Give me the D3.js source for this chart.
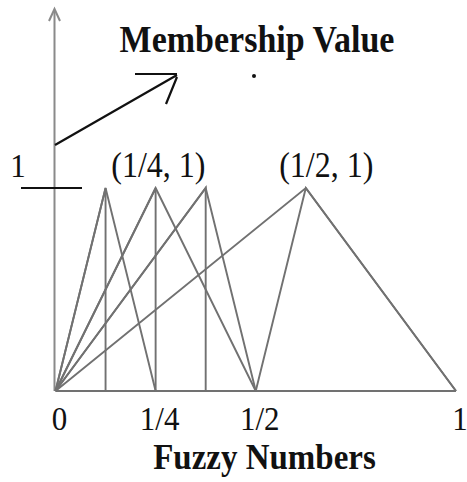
<!DOCTYPE html>
<html>
<head>
<meta charset="utf-8">
<script src="https://cdn.jsdelivr.net/npm/d3@7"></script>
<style>
  html, body { margin: 0; padding: 0; background: #fff; }
  svg { display: block; }
  text { font-family: "Liberation Serif", "Times New Roman", serif; fill: #111; }
</style>
</head>
<body>
<svg id="chart" width="467" height="482"></svg>
<script>
// Triangular fuzzy numbers: [left, peak, right] on the unit interval
const triangles = [
  [0, 1/8, 1/8],
  [0, 1/8, 1/4],
  [0, 1/4, 1/4],
  [0, 1/4, 1/2],
  [0, 3/8, 3/8],
  [0, 3/8, 1/2],
  [0, 5/8, 1],
  [1/2, 5/8, 1]
];
// Tick positions and labels along the fuzzy-number axis
const tickValues = [0, 1/4, 1/2, 1];
const tickLabels = ["0", "1/4", "1/2", "1"];
// Peak annotations: text and the x position (in axis units) they sit at
const peakLabels = ["(1/4, 1)", "(1/2, 1)"];
const peakLabelX = [0.257, 0.676];

const svg = d3.select("#chart");
const x = d3.scaleLinear().domain([0, 1]).range([55.5, 456]);
const y = d3.scaleLinear().domain([0, 1]).range([391, 188]);
const grey = "#717171";
const stretch = 1.1; // glyphs are drawn slightly taller than wide

// place a text at (px, py) baseline with a vertical stretch
function placed(sel, px, py) {
  return sel.attr("transform", `translate(${px},${py}) scale(1,${stretch})`);
}

// vertical (membership) axis with open arrowhead
svg.append("line")
  .attr("x1", x(0) - 1).attr("x2", x(0) - 1)
  .attr("y1", 10).attr("y2", y(0))
  .attr("stroke", "#8a8a8a").attr("stroke-width", 2);
svg.append("path")
  .attr("d", `M${x(0) - 6.5},21 L${x(0) - 1},9 L${x(0) + 4.5},21`)
  .attr("fill", "none").attr("stroke", "#8a8a8a").attr("stroke-width", 2);

// horizontal axis
svg.append("line")
  .attr("x1", x(0)).attr("x2", x(1))
  .attr("y1", y(0)).attr("y2", y(0))
  .attr("stroke", grey).attr("stroke-width", 2);

// triangles
const line = d3.line().x(d => x(d[0])).y(d => y(d[1]));
svg.append("g").selectAll("path")
  .data(triangles)
  .join("path")
  .attr("d", t => line([[t[0], 0], [t[1], 1], [t[2], 0]]))
  .attr("fill", "none")
  .attr("stroke", grey)
  .attr("stroke-width", 1.9)
  .attr("stroke-linejoin", "miter");

// level mark for membership 1
svg.append("line")
  .attr("x1", 21).attr("x2", 82)
  .attr("y1", y(1)).attr("y2", y(1))
  .attr("stroke", "#111").attr("stroke-width", 2.2);
placed(svg.append("text"), 18, 177)
  .attr("text-anchor", "middle")
  .attr("font-size", 31)
  .text("1");

// peak annotations
svg.append("g").selectAll("text")
  .data(peakLabels)
  .join("text")
  .attr("transform", (d, i) => `translate(${x(peakLabelX[i])},177) scale(1,${stretch})`)
  .attr("text-anchor", "middle")
  .attr("font-size", 32)
  .text(d => d);

// tick labels
svg.append("g").selectAll("text")
  .data(tickValues)
  .join("text")
  .attr("transform", d => `translate(${x(d) + 4},430) scale(1,${stretch})`)
  .attr("text-anchor", "middle")
  .attr("font-size", 31)
  .text((d, i) => tickLabels[i]);

// axis titles
placed(svg.append("text"), 257, 52)
  .attr("text-anchor", "middle")
  .attr("font-size", 34).attr("font-weight", "bold")
  .text("Membership Value");
placed(svg.append("text"), 264.5, 469)
  .attr("text-anchor", "middle")
  .attr("font-size", 33).attr("font-weight", "bold")
  .text("Fuzzy Numbers");

// pointer arrow from the axis to the title
svg.append("path")
  .attr("d", "M55,145 L177,75 M135,74 L177,74 M177,77 L166,104")
  .attr("fill", "none").attr("stroke", "#111").attr("stroke-width", 2.2);
svg.append("circle")
  .attr("cx", 254).attr("cy", 76).attr("r", 2)
  .attr("fill", "#111");
</script>
</body>
</html>
